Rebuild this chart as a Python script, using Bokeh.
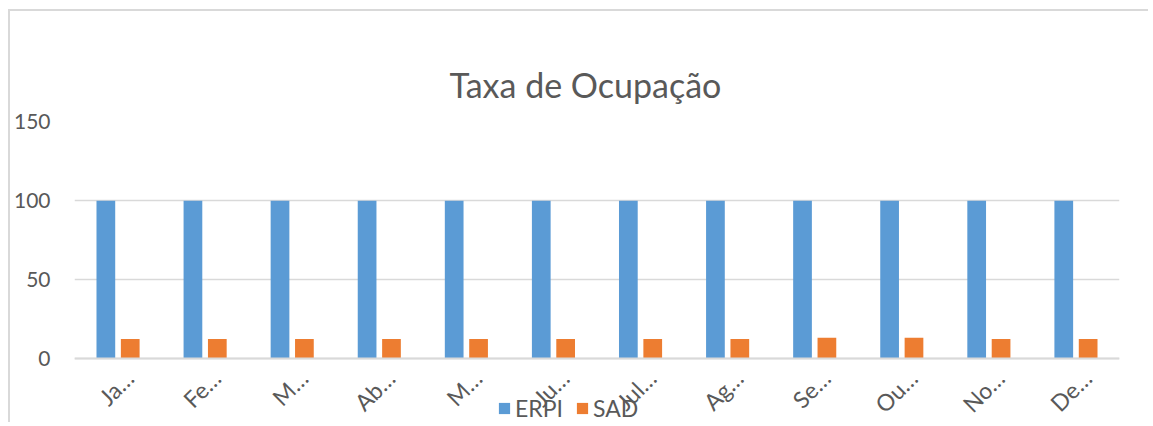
import math
from bokeh.plotting import figure
from bokeh.models import (Range1d, Legend, LegendItem, ColumnDataSource,
                          LinearAxis, FixedTicker)
from bokeh.transform import dodge
from bokeh.embed import file_html
from bokeh.resources import INLINE

months = ["Ja…", "Fe…", "M…", "Ab…", "M…", "Ju…", "Jul…", "Ag…", "Se…", "Ou…", "No…", "De…"]
erpi = [100, 100, 100, 100, 100, 100, 100, 100, 100, 100, 100, 100]
sad = [12.6, 12.6, 12.6, 12.6, 12.6, 12.6, 12.6, 12.6, 13.4, 13.4, 12.6, 12.6]
y_ticks = [0, 50, 100, 150]

BLUE = "#5B9BD5"
ORANGE = "#ED7D31"
GREY = "#595959"
FONT = "Lato"

n = len(months)
pos = [i + 0.5 for i in range(n)]  # category centres
src = ColumnDataSource(dict(m=months, pos=pos, erpi=erpi, sad=sad))

p = figure(width=1140, height=413, output_backend="svg", toolbar_location=None,
           x_range=Range1d(0, n), y_range=Range1d(-41.4, 150),
           title="Taxa de Ocupação")
p.min_border_left = 58
p.min_border_right = 31
p.min_border_top = 110
p.min_border_bottom = 0
p.outline_line_color = None
p.styles = {"border-left": "2px solid #d9d9d9", "border-top": "2px solid #d9d9d9",
            "margin-left": "8px", "margin-top": "9px"}

p.title.align = "left"
p.title.text_font = FONT
p.title.text_font_style = "normal"
p.title.text_font_size = "34px"
p.title.text_color = GREY
p.title.standoff = 34
p.title.offset = 375

r1 = p.vbar(x=dodge("pos", -0.14), top="erpi", width=0.215, source=src,
            fill_color=BLUE, line_color=None)
r2 = p.vbar(x=dodge("pos", 0.14), top="sad", width=0.215, source=src,
            fill_color=ORANGE, line_color=None)

p.xgrid.grid_line_color = None
p.ygrid.grid_line_color = "#d9d9d9"
p.ygrid.grid_line_width = 1.5
p.yaxis.ticker = y_ticks
p.yaxis.axis_line_color = None
p.yaxis.major_tick_line_color = None
p.yaxis.minor_tick_line_color = None
p.yaxis.major_label_text_font = FONT
p.yaxis.major_label_text_font_size = "21px"
p.yaxis.major_label_text_color = GREY
p.yaxis.major_label_standoff = 18

# default x axis hidden; month labels on a slightly shifted axis (Excel-like placement)
p.xaxis.visible = False
shift = 0.13
p.extra_x_ranges = {"lab": Range1d(-shift, n - shift)}
lab_axis = LinearAxis(x_range_name="lab", ticker=FixedTicker(ticks=pos),
                      major_label_overrides={t: m for t, m in zip(pos, months)})
lab_axis.fixed_location = 0
lab_axis.axis_line_color = "#d9d9d9"
lab_axis.axis_line_width = 2
lab_axis.major_tick_line_color = None
lab_axis.minor_tick_line_color = None
lab_axis.major_label_orientation = math.pi / 4
lab_axis.major_label_text_font = FONT
lab_axis.major_label_text_font_size = "23px"
lab_axis.major_label_text_color = GREY
lab_axis.major_label_standoff = 9
p.add_layout(lab_axis, "below")

legend = Legend(items=[LegendItem(label="ERPI", renderers=[r1]),
                       LegendItem(label="SAD", renderers=[r2])],
                orientation="horizontal", location=(423, 2))
legend.border_line_color = None
legend.background_fill_alpha = 0
legend.label_text_font = FONT
legend.label_text_font_size = "23px"
legend.label_text_color = GREY
legend.glyph_width = 14
legend.glyph_height = 14
legend.label_standoff = 4
legend.spacing = 12
legend.padding = 0
legend.margin = 0
p.add_layout(legend, "center")

open("out.html", "w").write(file_html(p, INLINE))
